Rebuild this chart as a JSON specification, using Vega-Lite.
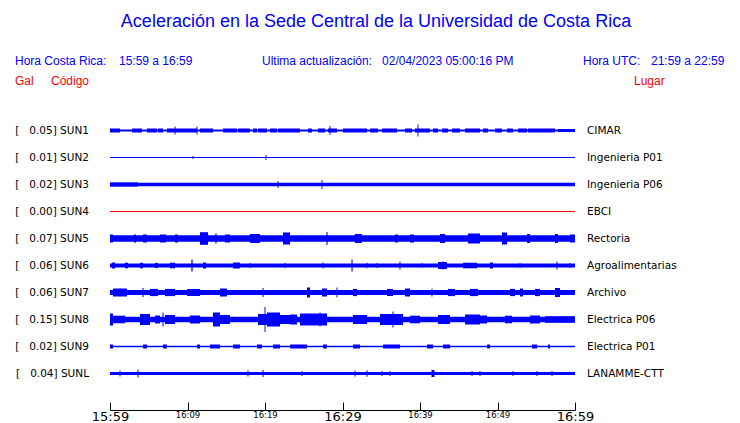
{
  "$schema": "https://vega.github.io/schema/vega-lite/v6.json",
  "padding": {"left": 15, "top": 0, "right": 0, "bottom": 0},
  "background": "white",
  "config": {"view": {"stroke": null}, "font": "DejaVu Sans"},
  "datasets": {
    "stations": [
      {"s": "SUN1", "orden": 1, "etiqueta": "[\u00a0\u00a0\u00a00.05] SUN1", "lugar": "CIMAR"},
      {"s": "SUN2", "orden": 2, "etiqueta": "[\u00a0\u00a0\u00a00.01] SUN2", "lugar": "Ingenieria P01"},
      {"s": "SUN3", "orden": 3, "etiqueta": "[\u00a0\u00a0\u00a00.02] SUN3", "lugar": "Ingenieria P06"},
      {"s": "SUN4", "orden": 4, "etiqueta": "[\u00a0\u00a0\u00a00.00] SUN4", "lugar": "EBCI"},
      {"s": "SUN5", "orden": 5, "etiqueta": "[\u00a0\u00a0\u00a00.07] SUN5", "lugar": "Rectoria"},
      {"s": "SUN6", "orden": 6, "etiqueta": "[\u00a0\u00a0\u00a00.06] SUN6", "lugar": "Agroalimentarias"},
      {"s": "SUN7", "orden": 7, "etiqueta": "[\u00a0\u00a0\u00a00.06] SUN7", "lugar": "Archivo"},
      {"s": "SUN8", "orden": 8, "etiqueta": "[\u00a0\u00a0\u00a00.15] SUN8", "lugar": "Electrica P06"},
      {"s": "SUN9", "orden": 9, "etiqueta": "[\u00a0\u00a0\u00a00.02] SUN9", "lugar": "Electrica P01"},
      {"s": "SUNL", "orden": 10, "etiqueta": "[\u00a0\u00a0\u00a00.04] SUNL", "lugar": "LANAMME-CTT"}
    ],
    "traces": [
      {"s":"SUN1","t0":0,"t1":60,"lo":-1,"hi":1},
      {"s":"SUN1","t0":0,"t1":1.29,"lo":-2,"hi":2},
      {"s":"SUN1","t0":2.84,"t1":4.13,"lo":-2,"hi":2},
      {"s":"SUN1","t0":4.77,"t1":6.06,"lo":-2,"hi":2},
      {"s":"SUN1","t0":6.19,"t1":6.84,"lo":-2,"hi":2},
      {"s":"SUN1","t0":7.35,"t1":11.23,"lo":-2,"hi":2},
      {"s":"SUN1","t0":11.61,"t1":13.29,"lo":-2,"hi":2},
      {"s":"SUN1","t0":14.58,"t1":16.39,"lo":-2,"hi":2},
      {"s":"SUN1","t0":16.52,"t1":18.06,"lo":-2,"hi":2},
      {"s":"SUN1","t0":18.45,"t1":18.97,"lo":-2,"hi":2},
      {"s":"SUN1","t0":19.1,"t1":20.26,"lo":-2,"hi":2},
      {"s":"SUN1","t0":20.65,"t1":21.55,"lo":-2,"hi":2},
      {"s":"SUN1","t0":21.68,"t1":24.52,"lo":-2,"hi":2},
      {"s":"SUN1","t0":25.55,"t1":26.06,"lo":-2,"hi":2},
      {"s":"SUN1","t0":26.84,"t1":27.74,"lo":-2,"hi":2},
      {"s":"SUN1","t0":28.13,"t1":29.29,"lo":-2,"hi":2},
      {"s":"SUN1","t0":30.06,"t1":33.16,"lo":-2,"hi":2},
      {"s":"SUN1","t0":33.55,"t1":34.58,"lo":-2,"hi":2},
      {"s":"SUN1","t0":35.1,"t1":37.03,"lo":-2,"hi":2},
      {"s":"SUN1","t0":38.06,"t1":38.97,"lo":-2,"hi":2},
      {"s":"SUN1","t0":39.35,"t1":41.29,"lo":-2,"hi":2},
      {"s":"SUN1","t0":41.68,"t1":42.32,"lo":-2,"hi":2},
      {"s":"SUN1","t0":42.84,"t1":43.61,"lo":-2,"hi":2},
      {"s":"SUN1","t0":44.13,"t1":45.16,"lo":-2,"hi":2},
      {"s":"SUN1","t0":45.81,"t1":47.74,"lo":-2,"hi":2},
      {"s":"SUN1","t0":48.13,"t1":48.77,"lo":-2,"hi":2},
      {"s":"SUN1","t0":49.68,"t1":50.58,"lo":-2,"hi":2},
      {"s":"SUN1","t0":51.23,"t1":52.0,"lo":-2,"hi":2},
      {"s":"SUN1","t0":52.65,"t1":53.81,"lo":-2,"hi":2},
      {"s":"SUN1","t0":53.94,"t1":57.42,"lo":-2,"hi":2},
      {"s":"SUN1","t0":57.81,"t1":60,"lo":-1.5,"hi":1.5},
      {"s":"SUN1","t0":8.33,"t1":8.45,"lo":-4,"hi":4},
      {"s":"SUN1","t0":11.17,"t1":11.29,"lo":-4,"hi":4},
      {"s":"SUN1","t0":28.33,"t1":28.45,"lo":-4.5,"hi":4.5},
      {"s":"SUN1","t0":39.68,"t1":39.8,"lo":-6,"hi":6},
      {"s":"SUN2","t0":0,"t1":60,"lo":-0.5,"hi":0.5},
      {"s":"SUN2","t0":10.65,"t1":10.77,"lo":-1.5,"hi":1.5},
      {"s":"SUN2","t0":20.07,"t1":20.19,"lo":-2.5,"hi":2.5},
      {"s":"SUN3","t0":0,"t1":60,"lo":-1.7,"hi":1.7},
      {"s":"SUN3","t0":0,"t1":3.61,"lo":-2.1,"hi":2.1},
      {"s":"SUN3","t0":21.62,"t1":21.74,"lo":-3.5,"hi":3.5},
      {"s":"SUN3","t0":27.29,"t1":27.41,"lo":-4.5,"hi":4.5},
      {"s":"SUN4","t0":0,"t1":60,"lo":-0.5,"hi":0.5},
      {"s":"SUN5","t0":0,"t1":60,"lo":-3.2,"hi":3.2},
      {"s":"SUN5","t0":0,"t1":0.39,"lo":-4,"hi":4},
      {"s":"SUN5","t0":3.1,"t1":3.35,"lo":-4,"hi":4},
      {"s":"SUN5","t0":4.26,"t1":4.77,"lo":-4,"hi":4},
      {"s":"SUN5","t0":6.45,"t1":7.23,"lo":-4,"hi":4},
      {"s":"SUN5","t0":8.39,"t1":8.77,"lo":-4,"hi":4},
      {"s":"SUN5","t0":11.61,"t1":12.65,"lo":-6.3,"hi":6.3},
      {"s":"SUN5","t0":13.6,"t1":13.75,"lo":-5,"hi":5},
      {"s":"SUN5","t0":14.84,"t1":15.48,"lo":-4,"hi":4},
      {"s":"SUN5","t0":18.06,"t1":19.35,"lo":-4.5,"hi":4.5},
      {"s":"SUN5","t0":22.32,"t1":23.23,"lo":-6,"hi":6},
      {"s":"SUN5","t0":27.93,"t1":28.07,"lo":-6.5,"hi":6.5},
      {"s":"SUN5","t0":31.6,"t1":32.5,"lo":-4.5,"hi":4.5},
      {"s":"SUN5","t0":36.77,"t1":37.16,"lo":-4,"hi":4},
      {"s":"SUN5","t0":38.71,"t1":39.23,"lo":-4,"hi":4},
      {"s":"SUN5","t0":42.58,"t1":43.23,"lo":-4.5,"hi":4.5},
      {"s":"SUN5","t0":46.19,"t1":47.74,"lo":-5,"hi":5},
      {"s":"SUN5","t0":50.58,"t1":51.23,"lo":-6,"hi":6},
      {"s":"SUN5","t0":53.81,"t1":54.19,"lo":-4.5,"hi":4.5},
      {"s":"SUN5","t0":57.42,"t1":57.81,"lo":-4.5,"hi":4.5},
      {"s":"SUN5","t0":59.35,"t1":60,"lo":-4,"hi":4},
      {"s":"SUN6","t0":0,"t1":60,"lo":-2,"hi":2},
      {"s":"SUN6","t0":0.26,"t1":0.65,"lo":-3,"hi":3},
      {"s":"SUN6","t0":1.94,"t1":2.32,"lo":-2.8,"hi":2.8},
      {"s":"SUN6","t0":3.87,"t1":4.26,"lo":-2.8,"hi":2.8},
      {"s":"SUN6","t0":5.81,"t1":6.19,"lo":-2.6,"hi":2.6},
      {"s":"SUN6","t0":7.74,"t1":8.39,"lo":-2.8,"hi":2.8},
      {"s":"SUN6","t0":10.5,"t1":10.66,"lo":-6,"hi":6},
      {"s":"SUN6","t0":12.0,"t1":12.39,"lo":-3,"hi":3},
      {"s":"SUN6","t0":15.87,"t1":16.77,"lo":-3,"hi":3},
      {"s":"SUN6","t0":18.0,"t1":18.13,"lo":-2.6,"hi":2.6},
      {"s":"SUN6","t0":22.52,"t1":22.65,"lo":-2.6,"hi":2.6},
      {"s":"SUN6","t0":27.42,"t1":27.55,"lo":-3,"hi":3},
      {"s":"SUN6","t0":31.16,"t1":31.3,"lo":-6,"hi":6},
      {"s":"SUN6","t0":33.1,"t1":33.23,"lo":-2.8,"hi":2.8},
      {"s":"SUN6","t0":34.39,"t1":34.52,"lo":-2.6,"hi":2.6},
      {"s":"SUN6","t0":37.35,"t1":37.48,"lo":-4,"hi":4},
      {"s":"SUN6","t0":40.2,"t1":40.32,"lo":-2.6,"hi":2.6},
      {"s":"SUN6","t0":42.32,"t1":43.48,"lo":-3.5,"hi":3.5},
      {"s":"SUN6","t0":42.9,"t1":43.03,"lo":-4,"hi":4},
      {"s":"SUN6","t0":45.55,"t1":47.35,"lo":-2.8,"hi":2.8},
      {"s":"SUN6","t0":49.03,"t1":49.42,"lo":-3,"hi":3},
      {"s":"SUN6","t0":52.84,"t1":52.97,"lo":-2.6,"hi":2.6},
      {"s":"SUN6","t0":57.61,"t1":57.74,"lo":-4,"hi":4},
      {"s":"SUN6","t0":59.29,"t1":59.42,"lo":-2.6,"hi":2.6},
      {"s":"SUN7","t0":0,"t1":60,"lo":-2.6,"hi":2.6},
      {"s":"SUN7","t0":0.39,"t1":2.19,"lo":-4,"hi":4},
      {"s":"SUN7","t0":4.19,"t1":4.32,"lo":-4.5,"hi":4.5},
      {"s":"SUN7","t0":5.16,"t1":6.19,"lo":-3.6,"hi":3.6},
      {"s":"SUN7","t0":7.1,"t1":8.39,"lo":-3.6,"hi":3.6},
      {"s":"SUN7","t0":9.94,"t1":11.61,"lo":-3.5,"hi":3.5},
      {"s":"SUN7","t0":14.19,"t1":15.1,"lo":-4,"hi":4},
      {"s":"SUN7","t0":19.68,"t1":19.81,"lo":-4.5,"hi":4.5},
      {"s":"SUN7","t0":25.42,"t1":25.81,"lo":-5,"hi":5},
      {"s":"SUN7","t0":27.35,"t1":28.0,"lo":-4,"hi":4},
      {"s":"SUN7","t0":29.23,"t1":29.35,"lo":-5,"hi":5},
      {"s":"SUN7","t0":31.35,"t1":31.87,"lo":-3.6,"hi":3.6},
      {"s":"SUN7","t0":35.74,"t1":36.52,"lo":-3.5,"hi":3.5},
      {"s":"SUN7","t0":38.06,"t1":38.71,"lo":-4,"hi":4},
      {"s":"SUN7","t0":41.48,"t1":41.61,"lo":-4,"hi":4},
      {"s":"SUN7","t0":43.61,"t1":44.52,"lo":-3.6,"hi":3.6},
      {"s":"SUN7","t0":46.45,"t1":47.48,"lo":-3.6,"hi":3.6},
      {"s":"SUN7","t0":51.61,"t1":52.26,"lo":-3.6,"hi":3.6},
      {"s":"SUN7","t0":52.9,"t1":53.29,"lo":-4,"hi":4},
      {"s":"SUN7","t0":54.84,"t1":55.48,"lo":-3.6,"hi":3.6},
      {"s":"SUN7","t0":57.42,"t1":58.06,"lo":-4.5,"hi":4.5},
      {"s":"SUN8","t0":0,"t1":60,"lo":-2.8,"hi":2.8},
      {"s":"SUN8","t0":0,"t1":0.39,"lo":-6,"hi":6},
      {"s":"SUN8","t0":0.39,"t1":1.94,"lo":-3.8,"hi":3.8},
      {"s":"SUN8","t0":3.87,"t1":5.16,"lo":-5.5,"hi":5.5},
      {"s":"SUN8","t0":5.81,"t1":6.45,"lo":-4,"hi":4},
      {"s":"SUN8","t0":6.77,"t1":6.9,"lo":-7,"hi":7},
      {"s":"SUN8","t0":7.1,"t1":8.39,"lo":-4.5,"hi":4.5},
      {"s":"SUN8","t0":10.32,"t1":11.61,"lo":-4,"hi":4},
      {"s":"SUN8","t0":13.29,"t1":14.19,"lo":-7,"hi":7},
      {"s":"SUN8","t0":14.19,"t1":15.48,"lo":-4.5,"hi":4.5},
      {"s":"SUN8","t0":19.1,"t1":20.26,"lo":-5.5,"hi":5.5},
      {"s":"SUN8","t0":19.94,"t1":20.06,"lo":-12.5,"hi":12.5},
      {"s":"SUN8","t0":20.26,"t1":21.94,"lo":-7,"hi":7},
      {"s":"SUN8","t0":21.94,"t1":23.23,"lo":-4.5,"hi":4.5},
      {"s":"SUN8","t0":23.23,"t1":24.13,"lo":-5,"hi":5},
      {"s":"SUN8","t0":24.52,"t1":28.0,"lo":-6,"hi":6},
      {"s":"SUN8","t0":27.03,"t1":27.16,"lo":-7,"hi":7},
      {"s":"SUN8","t0":31.35,"t1":33.16,"lo":-4.5,"hi":4.5},
      {"s":"SUN8","t0":34.84,"t1":37.81,"lo":-5.5,"hi":5.5},
      {"s":"SUN8","t0":36.45,"t1":36.58,"lo":-8,"hi":8},
      {"s":"SUN8","t0":38.71,"t1":40.0,"lo":-3.8,"hi":3.8},
      {"s":"SUN8","t0":42.32,"t1":43.87,"lo":-4.5,"hi":4.5},
      {"s":"SUN8","t0":45.81,"t1":47.74,"lo":-5,"hi":5},
      {"s":"SUN8","t0":47.74,"t1":48.65,"lo":-4,"hi":4},
      {"s":"SUN8","t0":50.97,"t1":51.87,"lo":-3.8,"hi":3.8},
      {"s":"SUN8","t0":54.19,"t1":55.48,"lo":-4,"hi":4},
      {"s":"SUN8","t0":56.13,"t1":60,"lo":-3.3,"hi":3.3},
      {"s":"SUN9","t0":0,"t1":60,"lo":-0.7,"hi":0.7},
      {"s":"SUN9","t0":0,"t1":0.39,"lo":-2,"hi":2},
      {"s":"SUN9","t0":4.26,"t1":4.77,"lo":-2,"hi":2},
      {"s":"SUN9","t0":6.84,"t1":7.35,"lo":-2,"hi":2},
      {"s":"SUN9","t0":11.23,"t1":11.61,"lo":-2,"hi":2},
      {"s":"SUN9","t0":12.9,"t1":14.19,"lo":-2,"hi":2},
      {"s":"SUN9","t0":15.87,"t1":16.77,"lo":-2,"hi":2},
      {"s":"SUN9","t0":18.97,"t1":19.61,"lo":-2,"hi":2},
      {"s":"SUN9","t0":21.03,"t1":21.94,"lo":-2,"hi":2},
      {"s":"SUN9","t0":23.23,"t1":25.42,"lo":-2,"hi":2},
      {"s":"SUN9","t0":27.48,"t1":28.0,"lo":-2,"hi":2},
      {"s":"SUN9","t0":31.35,"t1":32.26,"lo":-2,"hi":2},
      {"s":"SUN9","t0":35.23,"t1":37.42,"lo":-2,"hi":2},
      {"s":"SUN9","t0":40.9,"t1":41.68,"lo":-2,"hi":2},
      {"s":"SUN9","t0":42.97,"t1":43.87,"lo":-2,"hi":2},
      {"s":"SUN9","t0":48.65,"t1":49.03,"lo":-2,"hi":2},
      {"s":"SUN9","t0":54.45,"t1":55.1,"lo":-2,"hi":2},
      {"s":"SUN9","t0":56.52,"t1":56.77,"lo":-2,"hi":2},
      {"s":"SUNL","t0":0,"t1":60,"lo":-1.6,"hi":1.6},
      {"s":"SUNL","t0":1.23,"t1":1.35,"lo":-3,"hi":3},
      {"s":"SUNL","t0":3.55,"t1":3.68,"lo":-4,"hi":4},
      {"s":"SUNL","t0":17.74,"t1":17.87,"lo":-3,"hi":3},
      {"s":"SUNL","t0":19.68,"t1":19.81,"lo":-3.5,"hi":3.5},
      {"s":"SUNL","t0":24.71,"t1":24.84,"lo":-2.5,"hi":2.5},
      {"s":"SUNL","t0":31.55,"t1":31.68,"lo":-3,"hi":3},
      {"s":"SUNL","t0":33.1,"t1":33.23,"lo":-3.2,"hi":3.2},
      {"s":"SUNL","t0":35.03,"t1":35.16,"lo":-2.5,"hi":2.5},
      {"s":"SUNL","t0":36.06,"t1":36.19,"lo":-2.5,"hi":2.5},
      {"s":"SUNL","t0":41.48,"t1":41.87,"lo":-3.5,"hi":3.5},
      {"s":"SUNL","t0":46.65,"t1":46.77,"lo":-2.5,"hi":2.5},
      {"s":"SUNL","t0":47.68,"t1":47.81,"lo":-2.5,"hi":2.5},
      {"s":"SUNL","t0":51.94,"t1":52.06,"lo":-2.5,"hi":2.5},
      {"s":"SUNL","t0":55.03,"t1":55.16,"lo":-2.5,"hi":2.5},
      {"s":"SUNL","t0":56.97,"t1":57.1,"lo":-2.5,"hi":2.5}
    ]
  },
  "spacing": 0,
  "vconcat": [
    {
      "width": 630,
      "height": 117,
      "layer": [
        {
          "data": {"values": [{"texto": "Aceleración en la Sede Central de la Universidad de Costa Rica"}]},
          "mark": {"type": "text", "align": "center", "baseline": "middle", "font": "Liberation Sans", "fontSize": 18, "color": "#0000ff"},
          "encoding": {
            "text": {"field": "texto"},
            "x": {"datum": 376, "type": "quantitative", "scale": {"domain": [110, 740], "nice": false, "zero": false}, "axis": null},
            "y": {"datum": 22, "type": "quantitative", "scale": {"domain": [0, 117], "reverse": true, "nice": false, "zero": false}, "axis": null}
          }
        },
        {
          "data": {"values": [{"texto": "Hora Costa Rica:"}]},
          "mark": {"type": "text", "align": "left", "baseline": "middle", "font": "Liberation Sans", "fontSize": 12, "color": "#0000ff"},
          "encoding": {"text": {"field": "texto"}, "x": {"datum": 15, "type": "quantitative", "axis": null}, "y": {"datum": 61, "type": "quantitative", "axis": null}}
        },
        {
          "data": {"values": [{"texto": "15:59 a 16:59"}]},
          "mark": {"type": "text", "align": "left", "baseline": "middle", "font": "Liberation Sans", "fontSize": 12, "color": "#0000ff"},
          "encoding": {"text": {"field": "texto"}, "x": {"datum": 119, "type": "quantitative", "axis": null}, "y": {"datum": 61, "type": "quantitative", "axis": null}}
        },
        {
          "data": {"values": [{"texto": "Ultima actualización:\u00a0\u00a0 02/04/2023 05:00:16 PM"}]},
          "mark": {"type": "text", "align": "left", "baseline": "middle", "font": "Liberation Sans", "fontSize": 12, "color": "#0000ff"},
          "encoding": {"text": {"field": "texto"}, "x": {"datum": 262, "type": "quantitative", "axis": null}, "y": {"datum": 61, "type": "quantitative", "axis": null}}
        },
        {
          "data": {"values": [{"texto": "Hora UTC:"}]},
          "mark": {"type": "text", "align": "left", "baseline": "middle", "font": "Liberation Sans", "fontSize": 12, "color": "#0000ff"},
          "encoding": {"text": {"field": "texto"}, "x": {"datum": 583, "type": "quantitative", "axis": null}, "y": {"datum": 61, "type": "quantitative", "axis": null}}
        },
        {
          "data": {"values": [{"texto": "21:59 a 22:59"}]},
          "mark": {"type": "text", "align": "left", "baseline": "middle", "font": "Liberation Sans", "fontSize": 12, "color": "#0000ff"},
          "encoding": {"text": {"field": "texto"}, "x": {"datum": 651, "type": "quantitative", "axis": null}, "y": {"datum": 61, "type": "quantitative", "axis": null}}
        },
        {
          "data": {"values": [{"texto": "Gal"}]},
          "mark": {"type": "text", "align": "left", "baseline": "middle", "font": "Liberation Sans", "fontSize": 12, "color": "#ff0000"},
          "encoding": {"text": {"field": "texto"}, "x": {"datum": 15, "type": "quantitative", "axis": null}, "y": {"datum": 81, "type": "quantitative", "axis": null}}
        },
        {
          "data": {"values": [{"texto": "Código"}]},
          "mark": {"type": "text", "align": "left", "baseline": "middle", "font": "Liberation Sans", "fontSize": 12, "color": "#ff0000"},
          "encoding": {"text": {"field": "texto"}, "x": {"datum": 51, "type": "quantitative", "axis": null}, "y": {"datum": 81, "type": "quantitative", "axis": null}}
        },
        {
          "data": {"values": [{"texto": "Lugar"}]},
          "mark": {"type": "text", "align": "left", "baseline": "middle", "font": "Liberation Sans", "fontSize": 12, "color": "#ff0000"},
          "encoding": {"text": {"field": "texto"}, "x": {"datum": 634, "type": "quantitative", "axis": null}, "y": {"datum": 81, "type": "quantitative", "axis": null}}
        }
      ]
    },
    {
      "data": {"name": "traces"},
      "transform": [
        {"lookup": "s", "from": {"data": {"name": "stations"}, "key": "s", "fields": ["etiqueta", "lugar", "orden"]}}
      ],
      "facet": {
        "row": {
          "field": "etiqueta",
          "type": "nominal",
          "sort": {"field": "orden", "op": "min"},
          "header": {"title": null, "labelAngle": 0, "labelOrient": "left", "labelAlign": "left", "labelBaseline": "middle", "labelFont": "DejaVu Sans", "labelFontSize": 10.5, "labelColor": "black", "labelPadding": 21}
        }
      },
      "spacing": {"row": 0},
      "spec": {
        "width": 465,
        "height": 27,
        "layer": [
          {
            "mark": {"type": "rect"},
            "encoding": {
              "x": {
                "field": "t0", "type": "quantitative",
                "scale": {"domain": [0, 60], "nice": false, "zero": false},
                "axis": {
                  "values": [0, 5, 10, 15, 20, 25, 30, 35, 40, 45, 50, 55, 60],
                  "title": null, "grid": false, "offset": 23, "tickSize": -8,
                  "tickColor": "black", "domainColor": "black", "labelColor": "black",
                  "labelFont": "DejaVu Sans",
                  "labelFontSize": {"condition": {"test": "datum.value % 30 === 0", "value": 13}, "value": 8.5},
                  "labelExpr": "datum.value % 10 === 0 ? (floor((959 + datum.value) / 60) + ':' + ((959 + datum.value) % 60 < 10 ? '0' : '') + ((959 + datum.value) % 60)) : ''",
                  "labelPadding": 8, "labelFlush": false, "labelOverlap": false
                }
              },
              "x2": {"field": "t1"},
              "y": {"field": "lo", "type": "quantitative", "scale": {"domain": [-13.5, 13.5], "nice": false, "zero": false}, "axis": null},
              "y2": {"field": "hi"},
              "color": {"condition": {"test": "datum.s === 'SUN4'", "value": "#ff0000"}, "value": "#0000ff"}
            }
          },
          {
            "transform": [{"aggregate": [{"op": "count", "as": "n"}], "groupby": ["lugar"]}],
            "mark": {"type": "text", "align": "left", "baseline": "middle", "font": "DejaVu Sans", "fontSize": 10.5, "color": "black"},
            "encoding": {
              "x": {"datum": 61.55, "type": "quantitative"},
              "y": {"datum": 0, "type": "quantitative"},
              "text": {"field": "lugar"}
            }
          }
        ]
      }
    }
  ]
}
